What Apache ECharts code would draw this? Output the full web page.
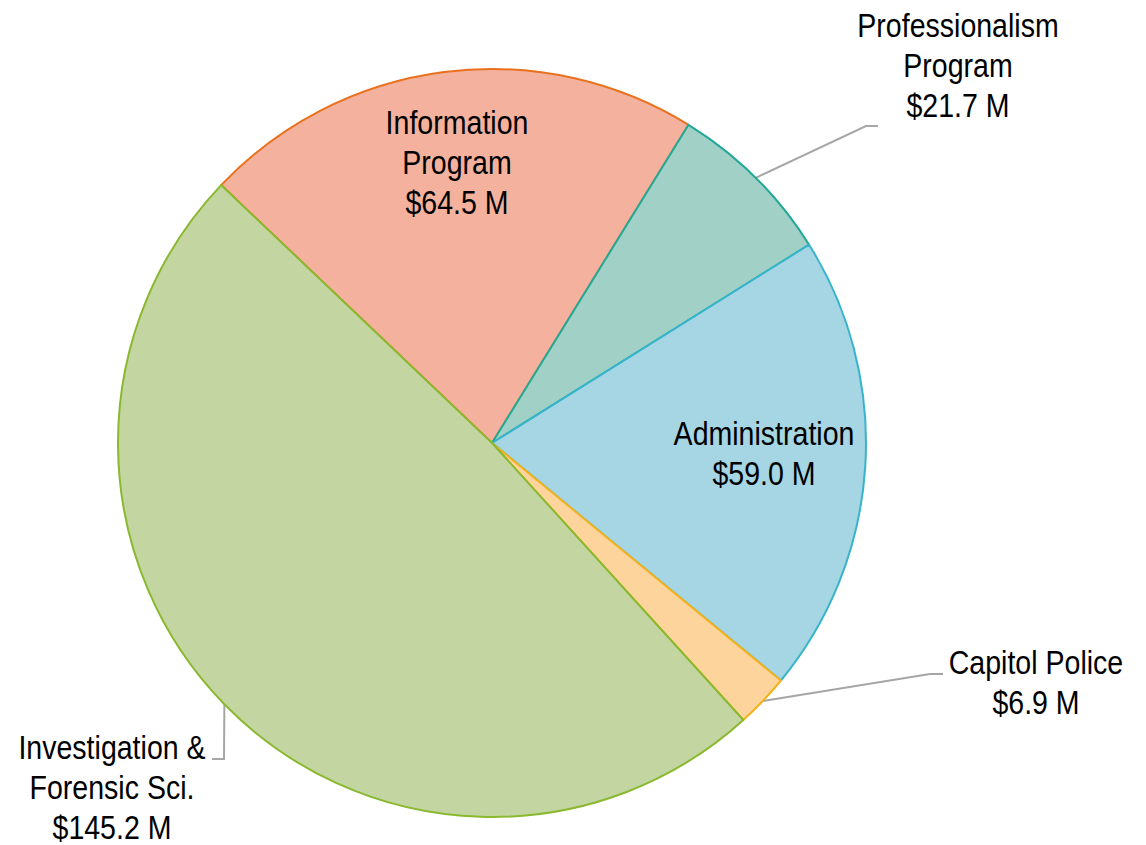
<!DOCTYPE html>
<html>
<head>
<meta charset="utf-8">
<script src="https://cdn.jsdelivr.net/npm/echarts@6/dist/echarts.min.js"></script>
<style>
  html, body { margin: 0; padding: 0; background: #fff; }
  #myChart { width: 1146px; height: 845px; }
</style>
</head>
<body>
<div id="myChart"></div>
<script>
// budget by program, $ millions
const programs = ["Information\nProgram", "Professionalism\nProgram", "Administration", "Capitol Police", "Investigation &\nForensic Sci."];
const budgets = [64.5, 21.7, 59.0, 6.9, 145.2];
const fills = ["#F4B29E", "#A1D1C6", "#A6D5E3", "#FDD49C", "#C3D6A2"];
const borders = ["#E8711E", "#22A897", "#36B4CB", "#F3B21C", "#8AB82F"];
const insideLabels = [true, false, true, false, false];

// where the labels sit, and the bends of the leader lines
const labelSpots = [
    { x: 457, y: 163 },
    { x: 958, y: 66, line: [[866, 126], [878, 126]] },
    { x: 764, y: 454 },
    { x: 1036, y: 683, line: [[930, 674], [943, 674]] },
    { x: 112, y: 788, line: [[224, 759], [212, 759]] },
];

const graphElem = document.getElementById("myChart");
const myChart = echarts.init(graphElem, null, { width: 1146, height: 845, renderer: "svg" });

const seriesData = programs.map((name, i) => ({
    name: name,
    value: budgets[i],
    itemStyle: { color: fills[i], borderColor: borders[i] },
    label: { position: insideLabels[i] ? "inside" : "outside" },
    labelLine: { show: !insideLabels[i] },
}));

myChart.setOption({
    animation: false,
    series: [
        {
            type: "pie",
            center: [492, 443],
            radius: 374,
            startAngle: 136.4,
            clockwise: true,
            avoidLabelOverlap: false,
            itemStyle: { borderWidth: 2 },
            label: {
                show: true,
                color: "#000",
                fontFamily: "'Liberation Sans', Arial, sans-serif",
                fontSize: 34,
                lineHeight: 40,
                align: "center",
                formatter: (p) => p.name + "\n$" + p.value.toFixed(1) + " M",
            },
            labelLine: {
                lineStyle: { color: "#A6A6A6", width: 2 },
            },
            labelLayout: (p) => {
                const s = labelSpots[p.dataIndex];
                const out = { x: s.x, y: s.y, align: "center", verticalAlign: "middle" };
                if (s.line && p.labelLinePoints) {
                    out.labelLinePoints = [p.labelLinePoints[0]].concat(s.line);
                }
                return out;
            },
            data: seriesData,
        },
    ],
});

// no narrow font installed: squeeze each text line around its centre instead
graphElem.querySelectorAll("text").forEach((t) => {
    const x = parseFloat(t.getAttribute("x") || 0);
    const tr = t.getAttribute("transform") || "";
    t.setAttribute("transform", tr + " translate(" + x + " 0) scale(0.84 1) translate(" + -x + " 0)");
});
</script>
</body>
</html>
